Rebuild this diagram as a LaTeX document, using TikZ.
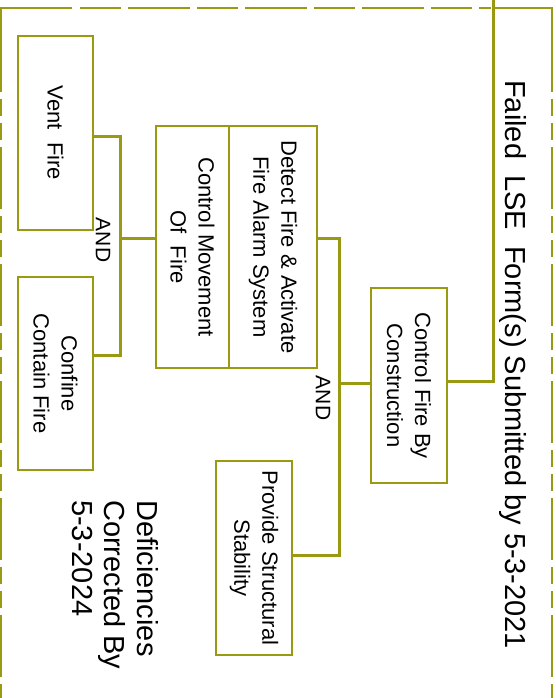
\documentclass[tikz,border=0pt]{standalone}
\usepackage{fontspec}
\setmainfont{Liberation Sans}
\usetikzlibrary{calc}
\definecolor{olv}{RGB}{154,154,18}
\tikzset{
  boxnode/.style={draw=olv, line width=1.4pt, rectangle, rotate=-90, inner sep=0pt,
    align=center, font=\fontsize{22}{28}\selectfont},
  conn/.style={draw=olv, line width=3pt},
  frm/.style={draw=olv, line width=2pt},
  andlbl/.style={rotate=-90, inner sep=0pt, font=\fontsize{21}{25}\selectfont}
}
\begin{document}
\begin{tikzpicture}[x=1pt,y=-1pt]
\useasboundingbox (0,0) rectangle (555,698);
% frame
\draw[frm] (1,92) -- (1,8) -- (72,8);
\draw[frm] (494,8) -- (552,8) -- (552,92);
\draw[frm, dash pattern=on 41pt off 7pt on 62pt off 7pt] (80,8) -- (491,8);
\draw[frm, dash pattern=on 17pt off 7pt on 17pt off 7pt on 62pt off 7pt] (1,99) -- (1,698);
\draw[frm, dash pattern=on 17pt off 7pt on 17pt off 7pt on 62pt off 7pt] (552,99) -- (552,698);
% boxes
\node[boxnode, minimum width=194pt, minimum height=75pt] (vent) at (55.5,133) {Vent\ \ Fire};
\node[boxnode, minimum width=193pt, minimum height=75pt] (confine) at (55.5,373.5) {Confine\\Contain Fire};
\node[boxnode, minimum width=242pt, minimum height=73pt] (cm) at (192.5,247) {Control Movement\\Of\ \ Fire};
\node[boxnode, minimum width=242pt, minimum height=88pt] (df) at (273,247) {Detect Fire \& Activate\\Fire Alarm System};
\node[boxnode, minimum width=195pt, minimum height=76pt] (cfc) at (409,385.5) {Control Fire By\\Construction};
\node[boxnode, minimum width=194pt, minimum height=76pt] (prov) at (254,558) {Provide Structural\\Stability};
% labels
\node[andlbl] (and1) at (103,240) {AND};
\node[andlbl] (and2) at (323,398) {AND};
\node[rotate=-90, inner sep=0pt, anchor=base west, font=\fontsize{29}{35}\selectfont] (failed) at (505,80) {Failed\ \ LSE\ \ Form(s) Submitted by 5-3-2021};
\node[rotate=-90, inner sep=0pt, anchor=west, align=left, font=\fontsize{29}{32.5}\selectfont] (defic) at (115,500)
  {Deficiencies\\Corrected By\\5-3-2024};
% connectors
\coordinate (j1) at (120,238);
\coordinate (j2) at (339,383);
\coordinate (top) at (493,0);
\draw[conn] ([yshift=-3pt]vent.north) -| (j1) |- ([yshift=18.5pt]confine.north);
\draw[conn] (j1) -- ([yshift=9pt]cm.south);
\draw[conn] ([yshift=9pt]df.north) -| (j2) |- ([yshift=3pt]prov.north);
\draw[conn] (j2) -- ([yshift=2.5pt]cfc.south);
\draw[conn] ([yshift=4.5pt]cfc.north) -| (top);
\end{tikzpicture}
\end{document}
